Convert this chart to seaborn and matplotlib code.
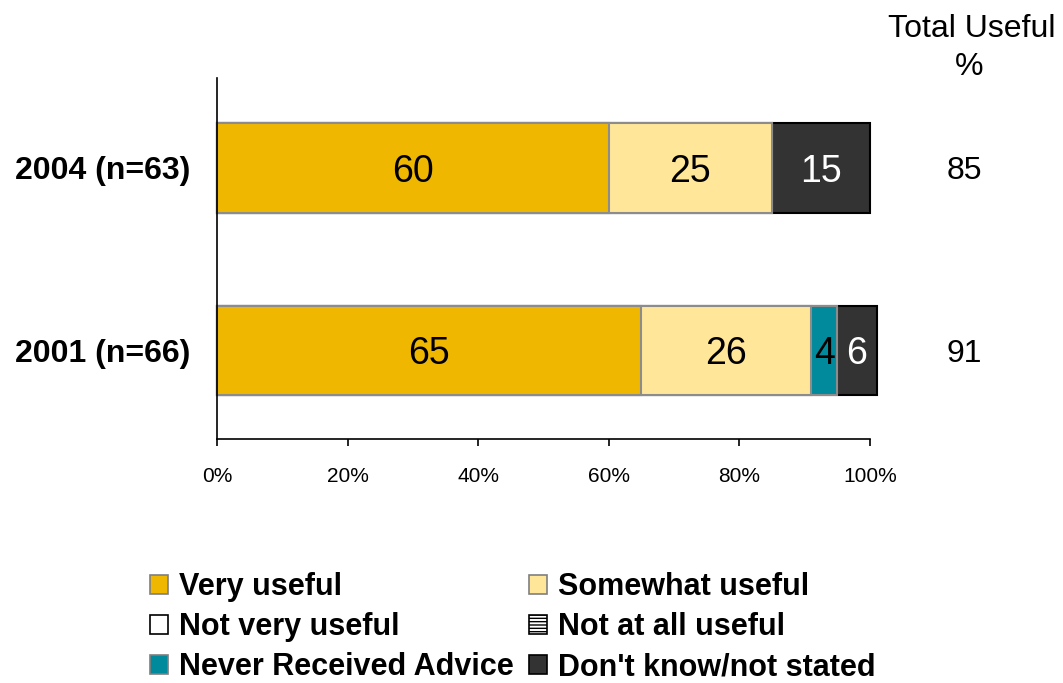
import numpy as np
import pandas as pd
import matplotlib
matplotlib.use("Agg")
import matplotlib.pyplot as plt
from matplotlib.patches import Patch
import seaborn as sns

# Survey results: usefulness of advice received
years = ["2004 (n=63)", "2001 (n=66)"]
very_useful = [60, 65]
somewhat_useful = [25, 26]
not_very_useful = [0, 0]
not_at_all_useful = [0, 0]
never_received = [0, 4]
dont_know = [15, 6]
total_useful = [85, 91]
x_ticks = [0, 20, 40, 60, 80, 100]

categories = ["Very useful", "Somewhat useful", "Not very useful",
              "Not at all useful", "Never Received Advice", "Don't know/not stated"]
series = [very_useful, somewhat_useful, not_very_useful,
          not_at_all_useful, never_received, dont_know]
fills = ["#EFB700", "#FFE699", "#FFFFFF", "#FFFFFF", "#008A9C", "#333333"]
edges = ["#8C8C8C", "#8C8C8C", "#000000", "#000000", "#8C8C8C", "#000000"]
text_colors = ["black", "black", "black", "black", "black", "white"]

sns.set_style("white")
plt.rcParams["font.family"] = ["Liberation Sans", "DejaVu Sans"]
plt.rcParams["text.color"] = "black"
plt.rcParams["xtick.color"] = "black"
plt.rcParams["ytick.color"] = "black"

fig = plt.figure(figsize=(10.63, 6.83), dpi=100)
ax = fig.add_axes([217 / 1063, 1 - 439 / 683, (870 - 217) / 1063, (439 - 78) / 683])

values = np.array(series, dtype=float)
cum = np.cumsum(values, axis=0)

# Stack by overlaying cumulative totals, widest first
for i in range(len(categories) - 1, -1, -1):
    if values[i].sum() == 0:
        continue
    df = pd.DataFrame({"year": years, "cum": cum[i]})
    sns.barplot(data=df, x="cum", y="year", order=years, orient="h",
                color=fills[i], edgecolor=edges[i], linewidth=1.5,
                width=0.49, saturation=1, ax=ax)

for p in ax.patches:
    p.set_clip_on(False)

# Segment labels
for i in range(len(categories)):
    for j, v in enumerate(values[i]):
        if v <= 0:
            continue
        ax.text(cum[i][j] - v / 2, j, f"{int(v)}", ha="center", va="center_baseline",
                fontsize=27, color=text_colors[i])

ax.set_xlim(0, 100)
ax.set_ylim(1.485, -0.493)
ax.set_xticks(x_ticks)
ax.set_xticklabels([f"{t}%" for t in x_ticks], fontsize=15)
ax.set_xlabel("")
ax.set_ylabel("")
ax.tick_params(axis="x", bottom=True, direction="out", length=5, width=1.2,
               color="black", pad=15)
ax.tick_params(axis="y", left=False, length=0, pad=19)
for lab in ax.get_yticklabels():
    lab.set_fontsize(23)
    lab.set_fontweight("bold")
for s in ["top", "right"]:
    ax.spines[s].set_visible(False)
for s in ["left", "bottom"]:
    ax.spines[s].set_color("black")
    ax.spines[s].set_linewidth(1.2)

# Total useful column
fig.text(972 / 1063, 1 - 29 / 683, "Total Useful", ha="center", va="center", fontsize=23)
fig.text(969 / 1063, 1 - 67 / 683, "%", ha="center", va="center", fontsize=23)
for j, t in enumerate(total_useful):
    ax.annotate(f"{t}", xy=(964 / 1063, j), xycoords=("figure fraction", "data"),
                ha="center", va="center_baseline", fontsize=23)

# Legend
handles = []
for i, c in enumerate(categories):
    hatch = "-----" if c == "Not at all useful" else None
    handles.append(Patch(facecolor=fills[i],
                         edgecolor="#7F7F7F" if edges[i] != "#000000" else "#000000",
                         hatch=hatch, linewidth=1.2, label=c))
order = [0, 2, 4, 1, 3, 5]
leg = fig.legend([handles[k] for k in order], [categories[k] for k in order],
                 ncol=2, loc="upper left", bbox_to_anchor=(135 / 1063, 1 - 557 / 683),
                 frameon=False, prop={"weight": "bold", "size": 22},
                 handlelength=0.58, handleheight=0.58, handletextpad=0.35,
                 columnspacing=0.52, labelspacing=0.33, borderpad=0)

fig.savefig("out.png", dpi=100)
